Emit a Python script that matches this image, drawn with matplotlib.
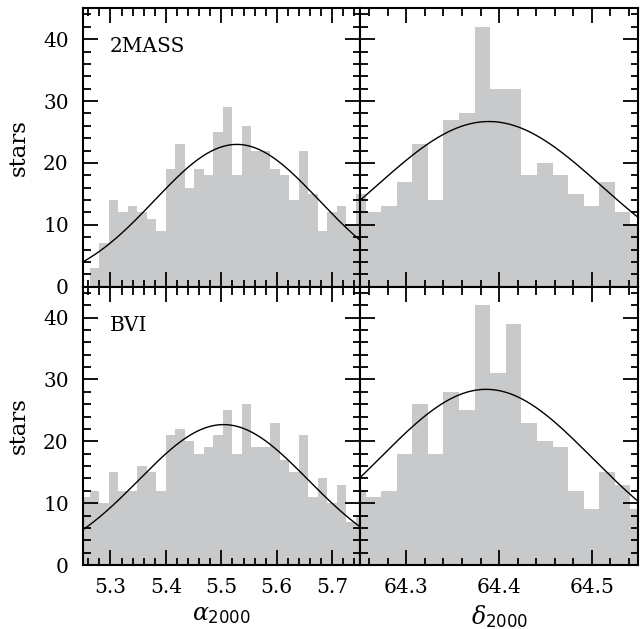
"""Histogramas de alpha e delta (2MASS e BVI) com ajuste gaussiano"""

import numpy as np
import matplotlib

matplotlib.use("Agg")
from matplotlib.pyplot import figure, rcParams
from matplotlib.ticker import MultipleLocator, FormatStrFormatter

rcParams["font.family"] = "DejaVu Serif"
rcParams["mathtext.fontset"] = "dejavuserif"

# bins (start of the first bin, bin width)
alpha_start = 5.2459
alpha_width = 0.01713
delta_start = 64.2392
delta_width = 0.0168

# counts per bin
alpha_2mass = [0, 3, 7, 14, 12, 13, 12, 11, 9, 19, 23, 16, 19, 18, 25,
               29, 18, 26, 22, 22, 19, 18, 14, 22, 15, 9, 12, 13, 10, 15]
alpha_bvi = [11, 12, 10, 15, 12, 12, 16, 15, 12, 21, 22, 20, 18, 19, 21,
             25, 18, 26, 19, 19, 23, 17, 15, 21, 11, 14, 10, 13, 7, 8]
delta_2mass = [15, 12, 13, 17, 23, 14, 27, 28, 42, 32, 32, 18, 20, 18,
               15, 13, 17, 12, 10]
delta_bvi = [12, 11, 12, 18, 26, 18, 28, 25, 42, 31, 39, 23, 20, 19,
             12, 9, 15, 13, 9]

# gaussian fits: amplitude, centre, sigma
fit_alpha_2mass = (23.0, 5.528, 0.1485)
fit_alpha_bvi = (22.7, 5.504, 0.1526)
fit_delta_2mass = (26.7, 64.389, 0.122)
fit_delta_bvi = (28.4, 64.386, 0.115)

alpha_lim = (5.25, 5.75)
delta_lim = (64.25, 64.55)
y_lim = (0, 45)

BAR_COLOR = "#c8c9cb"


def gauss(x, amp, mu, sigma):
    return amp * np.exp(-0.5 * ((x - mu) / sigma) ** 2)


def panel(fig, rect, start, width, counts, fit, xlim, left, bottom):
    """Desenha um painel: histograma + curva"""
    axs = fig.add_axes(rect)
    edges = start + width * np.arange(len(counts))
    axs.bar(edges, counts, width=width, align="edge",
            color=BAR_COLOR, linewidth=0, zorder=1)
    xs = np.linspace(xlim[0], xlim[1], 200)
    axs.plot(xs, gauss(xs, *fit), color="black", lw=1.0, zorder=2)

    axs.set_xlim(*xlim)
    axs.set_ylim(*y_lim)
    axs.xaxis.set_major_locator(MultipleLocator(0.1))
    axs.xaxis.set_minor_locator(MultipleLocator(0.02))
    axs.yaxis.set_major_locator(MultipleLocator(10))
    axs.yaxis.set_minor_locator(MultipleLocator(2))
    axs.xaxis.set_major_formatter(FormatStrFormatter("%.1f"))
    axs.yaxis.set_major_formatter(FormatStrFormatter("%d"))

    axs.tick_params(which="both", direction="in", top=True, right=True,
                    width=1.3, labelsize=14.5)
    axs.tick_params(which="major", length=10.8)
    axs.tick_params(which="minor", length=5.4)
    axs.tick_params(axis="x", pad=9, labelbottom=bottom)
    axs.tick_params(axis="y", pad=10, labelleft=left)
    for spine in axs.spines.values():
        spine.set_linewidth(1.5)
        spine.set_zorder(3)
    return axs


fig = figure(figsize=(6.44, 6.29), dpi=100)

x_l, w_l = 0.1284, 0.4306
x_r, w_r = 0.5590, 0.4321
y_t, y_b, h = 0.5442, 0.1017, 0.4426

ax_a2 = panel(fig, [x_l, y_t, w_l, h], alpha_start, alpha_width,
              alpha_2mass, fit_alpha_2mass, alpha_lim, True, False)
ax_d2 = panel(fig, [x_r, y_t, w_r, h], delta_start, delta_width,
              delta_2mass, fit_delta_2mass, delta_lim, False, False)
ax_ab = panel(fig, [x_l, y_b, w_l, h], alpha_start, alpha_width,
              alpha_bvi, fit_alpha_bvi, alpha_lim, True, True)
ax_db = panel(fig, [x_r, y_b, w_r, h], delta_start, delta_width,
              delta_bvi, fit_delta_bvi, delta_lim, False, True)

ax_a2.text(0.098, 0.842, "2MASS", transform=ax_a2.transAxes,
           fontsize=14.5, va="baseline")
ax_ab.text(0.098, 0.842, "BVI", transform=ax_ab.transAxes,
           fontsize=14.5, va="baseline")

for axs in (ax_a2, ax_ab):
    axs.set_ylabel("stars", fontsize=16.5)
    axs.yaxis.set_label_coords(-0.19, 0.5)

ax_ab.set_xlabel(r"$\alpha_{\mathsf{2000}}$", fontsize=17)
ax_db.set_xlabel(r"$\delta_{\mathsf{2000}}$", fontsize=17)
ax_ab.xaxis.set_label_coords(0.5, -0.135)
ax_db.xaxis.set_label_coords(0.5, -0.135)

fig.savefig("out.png", dpi=100)
